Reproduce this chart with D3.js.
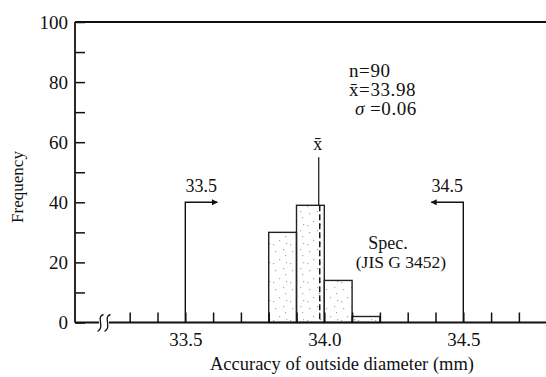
<!DOCTYPE html>
<html>
<head>
<meta charset="utf-8">
<script src="https://cdn.jsdelivr.net/npm/d3@7"></script>
<style>
  html, body { margin: 0; padding: 0; background: #fff; }
  svg { display: block; }
  text { font-family: "Liberation Serif", "Times New Roman", serif; fill: #111; }
</style>
</head>
<body>
<script>
// ---- data ----
const binStarts = [33.8, 33.9, 34.0, 34.1];
const binWidth = 0.1;
const frequencies = [30, 39, 14, 2];
const xTickValues = [33.3, 33.4, 33.5, 33.6, 33.7, 33.8, 33.9, 34.0, 34.1, 34.2, 34.3, 34.4, 34.5, 34.6, 34.7];
const xTickLabels = [33.5, 34.0, 34.5];
const yTickValues = [0, 10, 20, 30, 40, 50, 60, 70, 80, 90, 100];
const yTickLabels = [0, 20, 40, 60, 80, 100];
const specLimits = [33.5, 34.5];
const specHeight = 40;
const meanValue = 33.98;
const meanLineTop = 55;
const statsLines = ["n=90", "x\u0304=33.98", "=0.06"];

// ---- layout ----
const W = 546, H = 377;
const mLeft = 75, mRight = 546, mTop = 22, mBottom = 322.5;

const svg = d3.select("body").append("svg").attr("width", W).attr("height", H);

const x = d3.scaleLinear().domain([33.1032, 34.7975]).range([mLeft, mRight]);
const y = d3.scaleLinear().domain([0, 100]).range([mBottom, mTop]);

// stipple pattern
const defs = svg.append("defs");
const pat = defs.append("pattern").attr("id", "stip").attr("patternUnits", "userSpaceOnUse")
  .attr("width", 17).attr("height", 19);
[[3,4],[11,2],[7,12],[14,15],[1,16],[13,8]].forEach(([a,b]) =>
  pat.append("rect").attr("x", a).attr("y", b).attr("width", 1.2).attr("height", 1.2).attr("fill", "#aaa"));

// bars
svg.append("g").selectAll("rect").data(binStarts).join("rect")
  .attr("x", d => x(d))
  .attr("y", (d, i) => y(frequencies[i]))
  .attr("width", d => x(d + binWidth) - x(d))
  .attr("height", (d, i) => y(0) - y(frequencies[i]))
  .attr("fill", "url(#stip)")
  .attr("stroke", "#222").attr("stroke-width", 1.4);

// mean line: solid above bars, dashed inside
const meanBin = binStarts.findIndex(s => meanValue >= s && meanValue < s + binWidth);
const meanBarTop = y(frequencies[meanBin]);
svg.append("line").attr("x1", x(meanValue)).attr("x2", x(meanValue))
  .attr("y1", y(meanLineTop)).attr("y2", meanBarTop)
  .attr("stroke", "#111").attr("stroke-width", 1.2);
svg.append("line").attr("x1", x(meanValue) + 1).attr("x2", x(meanValue) + 1)
  .attr("y1", meanBarTop).attr("y2", y(0))
  .attr("stroke", "#111").attr("stroke-width", 1.4).attr("stroke-dasharray", "6,3");
svg.append("text").attr("x", x(meanValue) - 1).attr("y", y(meanLineTop) - 7)
  .attr("text-anchor", "middle").attr("font-size", 18).text("x\u0304");

// x axis
const xAxis = d3.axisBottom(x).tickValues(xTickValues)
  .tickSizeInner(-10).tickSizeOuter(0).tickPadding(10)
  .tickFormat(d => xTickLabels.some(v => Math.abs(v - d) < 1e-9) ? d3.format(".1f")(d) : "");
const gx = svg.append("g").attr("transform", `translate(0,${mBottom})`).call(xAxis);
gx.select(".domain").remove();
gx.selectAll("line").attr("stroke", "#111").attr("stroke-width", 1.5);
gx.selectAll("text").attr("font-size", 19).attr("fill", "#111");
svg.append("line").attr("x1", mLeft).attr("x2", mRight).attr("y1", mBottom).attr("y2", mBottom)
  .attr("stroke", "#111").attr("stroke-width", 1.8);

// y axis
const yAxis = d3.axisLeft(y).tickValues(yTickValues)
  .tickSizeInner(-10).tickSizeOuter(0).tickPadding(7)
  .tickFormat(d => yTickLabels.includes(d) ? String(d) : "");
const gy = svg.append("g").attr("transform", `translate(${mLeft},0)`).call(yAxis);
gy.select(".domain").remove();
gy.selectAll("line").attr("stroke", "#111").attr("stroke-width", 1.5);
gy.selectAll("text").attr("font-size", 19).attr("fill", "#111");
svg.append("line").attr("x1", mLeft).attr("x2", mLeft).attr("y1", mTop).attr("y2", mBottom)
  .attr("stroke", "#111").attr("stroke-width", 1.8);
// top frame
svg.append("line").attr("x1", mLeft).attr("x2", mRight).attr("y1", mTop).attr("y2", mTop)
  .attr("stroke", "#111").attr("stroke-width", 1.8);

// axis break symbol
const bx = 104;
svg.append("rect").attr("x", bx - 5).attr("y", mBottom - 3).attr("width", 10).attr("height", 6).attr("fill", "#fff");
[-3.5, 3.5].forEach(o => {
  svg.append("path")
    .attr("d", `M${bx + o + 3},${mBottom - 8} C${bx + o - 5},${mBottom - 6} ${bx + o + 5},${mBottom + 5} ${bx + o - 3},${mBottom + 9}`)
    .attr("fill", "none").attr("stroke", "#111").attr("stroke-width", 1.3);
});

// spec limits with arrows
defs.append("marker").attr("id", "arr").attr("viewBox", "0 0 10 10").attr("refX", 9).attr("refY", 5)
  .attr("markerWidth", 11).attr("markerHeight", 6).attr("markerUnits", "userSpaceOnUse").attr("orient", "auto")
  .append("path").attr("d", "M0,0 L10,5 L0,10 Z").attr("fill", "#111");
specLimits.forEach((s, i) => {
  const dir = i === 0 ? 1 : -1;
  svg.append("path")
    .attr("d", `M${x(s)},${y(0)} V${y(specHeight)} H${x(s) + dir * 32}`)
    .attr("fill", "none").attr("stroke", "#111").attr("stroke-width", 1.4)
    .attr("marker-end", "url(#arr)");
  svg.append("text").attr("x", x(s) + dir * 16).attr("y", y(specHeight) - 10)
    .attr("text-anchor", "middle").attr("font-size", 18).text(d3.format(".1f")(s));
});
svg.append("text").attr("x", 388).attr("y", 249).attr("text-anchor", "middle").attr("font-size", 18).text("Spec.");
svg.append("text").attr("x", 401).attr("y", 268).attr("text-anchor", "middle").attr("font-size", 17.5).text("(JIS G 3452)");

// statistics
const statStyle = t => t.attr("font-size", 19).attr("letter-spacing", 0.6);
svg.append("text").attr("x", 349).attr("y", 77).call(statStyle).text(statsLines[0]);
svg.append("text").attr("x", 349).attr("y", 96).call(statStyle).text(statsLines[1]);
const sig = svg.append("text").attr("x", 355).attr("y", 115).call(statStyle);
sig.append("tspan").attr("font-style", "italic").text("\u03C3");
sig.append("tspan").attr("dx", 5).text(statsLines[2]);

// axis titles
svg.append("text").attr("x", 342).attr("y", 370).attr("text-anchor", "middle").attr("font-size", 18.5)
  .text("Accuracy of outside diameter (mm)");
svg.append("text").attr("transform", `translate(23,187) rotate(-90)`).attr("text-anchor", "middle")
  .attr("font-size", 17).text("Frequency");
</script>
</body>
</html>
